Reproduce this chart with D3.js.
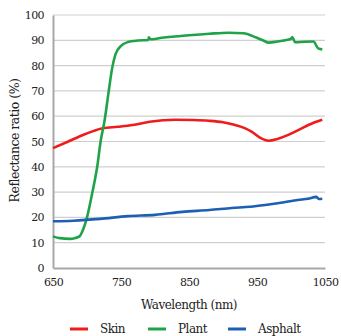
<!DOCTYPE html>
<html>
<head>
<meta charset="UTF-8">
<style>
  body { margin: 0; background: white; overflow: hidden; }
</style>
<script src="https://cdnjs.cloudflare.com/ajax/libs/d3/7.8.5/d3.min.js"></script>
</head>
<body>
<div id="chart"></div>
<script>
// wavelength (nm) / reflectance (%)
const skinX   = [650, 670, 694, 710, 723, 745, 767, 792, 831, 855, 879, 900, 918, 932, 942, 955, 967, 980, 996, 1010, 1021, 1035, 1046];
const skinY   = [47.4, 49.7, 52.6, 54.2, 55.2, 55.8, 56.5, 57.8, 58.6, 58.5, 58.2, 57.6, 56.5, 55.3, 53.9, 51.4, 50.3, 51.0, 52.6, 54.4, 55.9, 57.6, 58.6];

const plantX  = [650, 660, 675, 683, 689, 694, 700, 708, 715, 720, 726, 732, 737, 742, 750, 760, 775, 790, 791, 793, 810, 850, 880, 908, 930, 948, 960, 967, 980, 995, 1000, 1002, 1006, 1020, 1033, 1040, 1046];
const plantY  = [12.5, 11.8, 11.5, 11.9, 12.5, 15, 20, 30, 40, 50, 58.5, 70, 79, 84.5, 87.8, 89.3, 89.9, 90.1, 91.2, 90.4, 91.0, 92.0, 92.6, 93.0, 92.8, 91.2, 89.8, 89.1, 89.5, 90.2, 90.6, 91.3, 89.2, 89.4, 89.5, 86.8, 86.4];

const asphaltX = [650, 680, 719, 760, 800, 840, 880, 913, 940, 962, 990, 1010, 1025, 1037, 1041, 1046];
const asphaltY = [18.5, 18.7, 19.4, 20.5, 21.0, 22.2, 22.9, 23.7, 24.2, 24.9, 26.0, 26.9, 27.4, 28.1, 27.3, 27.4];

const xTicks = [650, 750, 850, 950, 1050];
const yTicks = [0, 10, 20, 30, 40, 50, 60, 70, 80, 90, 100];

const series = [
  { name: "Skin",    color: "#f01b1b", xs: skinX,    ys: skinY },
  { name: "Plant",   color: "#1fa348", xs: plantX,   ys: plantY },
  { name: "Asphalt", color: "#1d5fb3", xs: asphaltX, ys: asphaltY }
];

const width = 341, height = 336;
const margin = { top: 15, right: 16, bottom: 68, left: 53 };
const serif = "DejaVu Serif";

const svg = d3.select("#chart").append("svg")
  .attr("width", width)
  .attr("height", height);

const x = d3.scaleLinear().domain([650, 1050]).range([margin.left, width - margin.right]);
const y = d3.scaleLinear().domain([0, 100]).range([height - margin.bottom, margin.top]);

// horizontal grid lines
svg.append("g")
  .selectAll("line")
  .data(yTicks.filter(d => d > 0))
  .enter().append("line")
  .attr("x1", x(650)).attr("x2", x(1050))
  .attr("y1", d => y(d)).attr("y2", d => y(d))
  .attr("stroke", "#cfcfcf")
  .attr("stroke-width", 1.2);

// axes
const xAxis = svg.append("g")
  .attr("transform", `translate(0,${y(0)})`)
  .call(d3.axisBottom(x).tickValues(xTicks).tickFormat(d3.format("d")).tickSize(0).tickPadding(10));
const yAxis = svg.append("g")
  .attr("transform", `translate(${x(650)},0)`)
  .call(d3.axisLeft(y).tickValues(yTicks).tickSize(0).tickPadding(9));

[xAxis, yAxis].forEach(g => {
  g.attr("font-family", serif);
  g.select(".domain").attr("stroke", "#a8a8a8").attr("stroke-width", 2);
  g.selectAll("text")
    .attr("font-size", 11)
    .attr("letter-spacing", -0.6)
    .attr("fill", "#222");
});

// lines
const line = d3.line().x(d => x(d[0])).y(d => y(d[1])).curve(d3.curveMonotoneX);
series.forEach(s => {
  svg.append("path")
    .datum(s.xs.map((v, i) => [v, s.ys[i]]))
    .attr("fill", "none")
    .attr("stroke", s.color)
    .attr("stroke-width", 2.6)
    .attr("stroke-linejoin", "round")
    .attr("d", line);
});

// axis titles
svg.append("text")
  .attr("x", (x(650) + x(1050)) / 2)
  .attr("y", 309)
  .attr("text-anchor", "middle")
  .attr("font-family", serif)
  .attr("font-size", 12)
  .attr("letter-spacing", -0.5)
  .attr("fill", "#222")
  .text("Wavelength (nm)");

svg.append("text")
  .attr("transform", `translate(19,${y(50) - 1}) rotate(-90)`)
  .attr("text-anchor", "middle")
  .attr("font-family", serif)
  .attr("font-size", 12.5)
  .attr("letter-spacing", -0.5)
  .attr("fill", "#222")
  .text("Reflectance ratio (%)");

// legend
const legendX = [70, 148, 228];
const legend = svg.append("g");
series.forEach((s, i) => {
  legend.append("line")
    .attr("x1", legendX[i]).attr("x2", legendX[i] + 18)
    .attr("y1", 329).attr("y2", 329)
    .attr("stroke", s.color)
    .attr("stroke-width", 3);
  legend.append("text")
    .attr("x", legendX[i] + 30)
    .attr("y", 333)
    .attr("font-family", serif)
    .attr("font-size", 12)
    .attr("letter-spacing", -0.5)
    .attr("fill", "#222")
    .text(s.name);
});
</script>
</body>
</html>
